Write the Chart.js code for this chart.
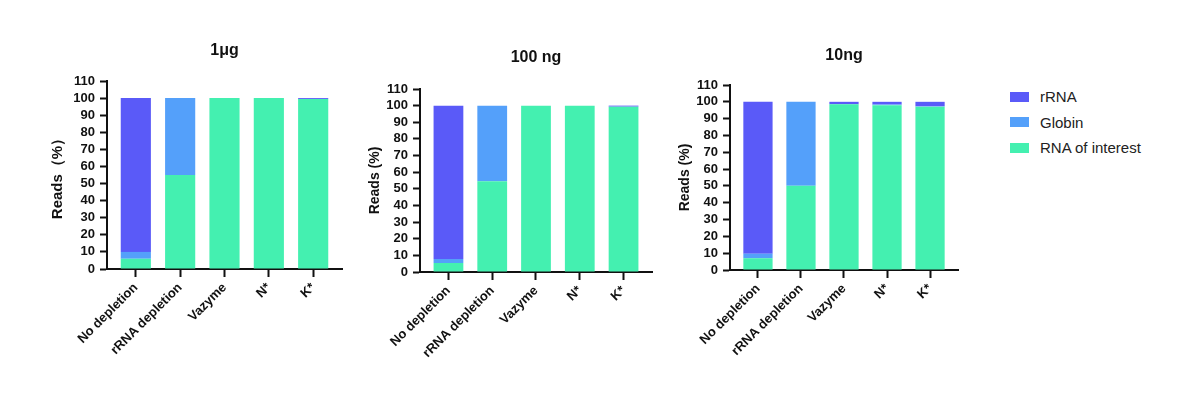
<!DOCTYPE html>
<html>
<head>
<meta charset="utf-8">
<script src="https://cdn.jsdelivr.net/npm/chart.js@4.4.1/dist/chart.umd.min.js"></script>
<style>
  body { margin: 0; background: #fff; font-family: "Liberation Sans", Arial, sans-serif; }
  #wrap { position: relative; width: 1192px; height: 398px; }
  canvas { position: absolute; top: 0; }
  #legend { position: absolute; left: 1010px; top: 84px; }
  .item { display: flex; align-items: center; height: 25.5px; font-size: 15px; color: #222; }
  .swatch { width: 19px; height: 10px; margin-right: 11px; }
</style>
</head>
<body>
<div id="wrap">
  <canvas id="c1" width="330" height="398" style="left:20px"></canvas>
  <canvas id="c2" width="310" height="398" style="left:350px"></canvas>
  <canvas id="c3" width="310" height="398" style="left:660px"></canvas>
  <div id="legend"></div>
</div>
<script>
var categories = ["No depletion", "rRNA depletion", "Vazyme", "N*", "K*"];
var seriesNames = ["rRNA", "Globin", "RNA of interest"];
var seriesColors = ["#5A5AF8", "#54A0FA", "#44F0B0"];
var titles = ["1μg", "100 ng", "10ng"];
var yLabels = ["Reads（%）", "Reads (%)", "Reads (%)"];

// values in % of reads
var rRNA1 = [90, 0, 0, 0, 0.6];
var globin1 = [4, 45, 0, 0, 0];
var interest1 = [6, 55, 100, 100, 99.4];

var rRNA2 = [92.2, 0, 0, 0, 0.6];
var globin2 = [2.4, 45.5, 0, 0, 0];
var interest2 = [5.4, 54.5, 100, 100, 99.4];

var rRNA3 = [90.3, 0, 1.4, 1.6, 2.7];
var globin3 = [2.7, 49.9, 0.1, 0.4, 0.2];
var interest3 = [7, 50.1, 98.5, 98, 97.1];

var yMax = 110;
var yStep = 10;

var FONT = "'Liberation Sans', Arial, sans-serif";
var INK = "#111";

function points(values) {
  return values.map(function (v, i) { return { x: i, y: v }; });
}

function makeChart(id, title, yTitle, rRNA, globin, interest, lay) {
  var ctx = document.getElementById(id).getContext("2d");
  return new Chart(ctx, {
    type: "bar",
    data: {
      datasets: [
        { label: seriesNames[2], backgroundColor: seriesColors[2], data: points(interest) },
        { label: seriesNames[1], backgroundColor: seriesColors[1], data: points(globin) },
        { label: seriesNames[0], backgroundColor: seriesColors[0], data: points(rRNA) }
      ]
    },
    options: {
      responsive: false,
      animation: false,
      barPercentage: 0.68,
      categoryPercentage: 1,
      layout: { padding: { left: 0, right: lay.right, top: 0, bottom: 0 } },
      plugins: {
        legend: { display: false },
        tooltip: { enabled: false },
        title: {
          display: true,
          text: title,
          fullSize: false,
          color: INK,
          font: { family: FONT, size: 16, weight: "bold" },
          padding: { top: lay.titleTop, bottom: lay.titleBottom }
        }
      },
      scales: {
        x: {
          type: "linear",
          stacked: true,
          offset: false,
          min: -0.65,
          max: 4.65,
          afterBuildTicks: function (scale) {
            scale.ticks = categories.map(function (c, i) { return { value: i }; });
          },
          afterFit: function (scale) { scale.height = lay.xHeight; },
          grid: { offset: false, drawOnChartArea: false, tickLength: 8, tickWidth: 2, tickColor: INK },
          border: { color: INK, width: 2 },
          ticks: {
            autoSkip: false,
            minRotation: 45,
            maxRotation: 45,
            padding: 3,
            color: INK,
            font: { family: FONT, size: 13, weight: "bold" },
            callback: function (v) { return categories[v]; }
          }
        },
        y: {
          stacked: true,
          min: 0,
          max: yMax,
          afterFit: function (scale) { scale.width = lay.yWidth; },
          grid: { drawOnChartArea: false, tickLength: 7, tickWidth: 2, tickColor: INK },
          border: { color: INK, width: 2 },
          ticks: {
            stepSize: yStep,
            autoSkip: false,
            padding: 5,
            color: INK,
            font: { family: FONT, size: 13, weight: "bold" }
          },
          title: {
            display: true,
            text: yTitle,
            color: INK,
            font: { family: FONT, size: lay.yTitleSize, weight: "bold" },
            padding: { top: lay.yTitlePad, bottom: 0 }
          }
        }
      }
    }
  });
}

makeChart("c1", titles[0], yLabels[0], rRNA1, globin1, interest1,
  { right: 8, titleTop: 41.4, titleBottom: 20.4, xHeight: 129, yWidth: 87, yTitleSize: 15, yTitlePad: 29 });
makeChart("c2", titles[1], yLabels[1], rRNA2, globin2, interest2,
  { right: 8, titleTop: 48.4, titleBottom: 21.4, xHeight: 126, yWidth: 70, yTitleSize: 14, yTitlePad: 16.6 });
makeChart("c3", titles[2], yLabels[2], rRNA3, globin3, interest3,
  { right: 12, titleTop: 46.4, titleBottom: 19.4, xHeight: 128, yWidth: 70, yTitleSize: 14, yTitlePad: 16.6 });

var legend = document.getElementById("legend");
seriesNames.forEach(function (name, i) {
  var row = document.createElement("div");
  row.className = "item";
  var sw = document.createElement("span");
  sw.className = "swatch";
  sw.style.background = seriesColors[i];
  var tx = document.createElement("span");
  tx.textContent = name;
  row.appendChild(sw);
  row.appendChild(tx);
  legend.appendChild(row);
});
</script>
</body>
</html>
